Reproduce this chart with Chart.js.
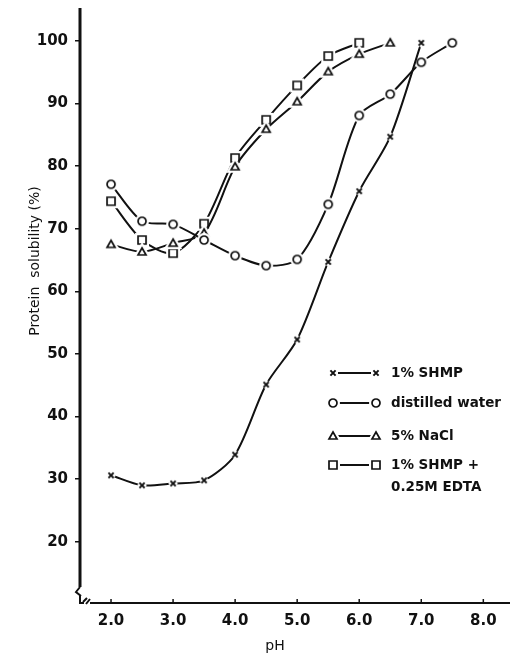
<!DOCTYPE html>
<html>
<head>
<meta charset="utf-8">
<script src="https://cdn.jsdelivr.net/npm/chart.js@4/dist/chart.umd.min.js"></script>
<style>
  html, body { margin: 0; padding: 0; background: #fff; }
  canvas { display: block; }
</style>
</head>
<body>
<canvas id="chart" width="510" height="657"></canvas>
<script>
// pH values
const phValues = [2.0, 2.5, 3.0, 3.5, 4.0, 4.5, 5.0, 5.5, 6.0, 6.5, 7.0, 7.5];

// protein solubility (%) per series
const shmpValues = [30.6, 29.0, 29.3, 29.8, 33.9, 45.1, 52.3, 64.7, 76.0, 84.7, 99.7];
const waterValues = [77.1, 71.2, 70.7, 68.2, 65.7, 64.1, 65.1, 73.9, 88.1, 91.5, 96.6, 99.7];
const naclValues = [67.5, 66.3, 67.7, 69.3, 79.9, 85.9, 90.3, 95.1, 97.9, 99.7];
const edtaValues = [74.4, 68.2, 66.1, 70.8, 81.3, 87.4, 92.9, 97.6, 99.7];

const seriesLabels = ["1% SHMP", "distilled water", "5% NaCl", ["1% SHMP +", "0.25M EDTA"]];
const xTicks = [2, 3, 4, 5, 6, 7, 8];
const yTicks = [20, 30, 40, 50, 60, 70, 80, 90, 100];

const INK = "#111";
const tickFont = { family: "DejaVu Sans", size: 15, weight: "bold" };

function toPoints(values) {
  return values.map((v, i) => ({ x: phValues[i], y: v }));
}

// marker images: white halo so the curve stops short of each symbol
function makeMarker(kind) {
  const c = document.createElement("canvas");
  c.width = c.height = 18;
  const g = c.getContext("2d");
  g.translate(9, 9);
  function path() {
    g.beginPath();
    if (kind === "circle") g.arc(0, 0, 4, 0, Math.PI * 2);
    else if (kind === "square") g.rect(-4, -4, 8, 8);
    else if (kind === "triangle") { g.moveTo(0, -4); g.lineTo(4, 3); g.lineTo(-4, 3); g.closePath(); }
    else { g.moveTo(-2.6, -2.6); g.lineTo(2.6, 2.6); g.moveTo(2.6, -2.6); g.lineTo(-2.6, 2.6); }
  }
  path();
  g.strokeStyle = "#fff";
  g.fillStyle = "#fff";
  g.lineWidth = 6;
  g.stroke();
  if (kind !== "cross") g.fill();
  path();
  g.strokeStyle = INK;
  g.lineWidth = kind === "cross" ? 2 : 1.7;
  g.stroke();
  return c;
}

const markers = {
  cross: makeMarker("cross"),
  circle: makeMarker("circle"),
  triangle: makeMarker("triangle"),
  square: makeMarker("square")
};

function lineSet(label, values, marker) {
  return {
    label: label,
    data: toPoints(values),
    borderColor: INK,
    borderWidth: 2,
    tension: 0.28,
    pointStyle: markers[marker],
    pointRadius: 5,
    pointHoverRadius: 5
  };
}

// scales should not reserve extra room for their labels
function noScalePadding(s) {
  s.paddingTop = 0;
  s.paddingBottom = 0;
  s.paddingLeft = 0;
  s.paddingRight = 0;
}

// axes, break marks, titles and legend
const decorPlugin = {
  id: "decor",
  beforeDatasetsDraw(chart) {
    const { ctx, chartArea, scales } = chart;
    const left = chartArea.left, bottom = chartArea.bottom;
    ctx.save();
    ctx.strokeStyle = INK;
    ctx.lineCap = "butt";

    // y axis with break
    ctx.lineWidth = 3;
    ctx.beginPath();
    ctx.moveTo(left, chartArea.top);
    ctx.lineTo(left, bottom - 16);
    ctx.stroke();
    ctx.lineWidth = 2;
    ctx.beginPath();
    ctx.moveTo(left, bottom - 16);
    ctx.lineTo(left - 4, bottom - 11);
    ctx.lineTo(left + 1, bottom - 7);
    ctx.moveTo(left, bottom - 8);
    ctx.lineTo(left, bottom);
    ctx.lineTo(left + 4, bottom);
    ctx.moveTo(left + 3, bottom - 1);
    ctx.lineTo(left + 7, bottom - 5);
    ctx.moveTo(left + 6, bottom + 1);
    ctx.lineTo(left + 10, bottom - 4);
    ctx.stroke();

    // x axis
    ctx.lineWidth = 2;
    ctx.beginPath();
    ctx.moveTo(left + 10, bottom);
    ctx.lineTo(chartArea.right, bottom);
    ctx.stroke();
    ctx.lineWidth = 1.5;
    xTicks.forEach(t => {
      const px = scales.x.getPixelForValue(t);
      ctx.beginPath();
      ctx.moveTo(px, bottom);
      ctx.lineTo(px, bottom - 4);
      ctx.stroke();
    });
    ctx.restore();
  },
  afterDraw(chart) {
    const { ctx } = chart;
    ctx.save();
    ctx.fillStyle = INK;

    // y title
    ctx.font = "14px 'DejaVu Sans'";
    ctx.textAlign = "center";
    ctx.textBaseline = "middle";
    ctx.translate(35, 261);
    ctx.rotate(-Math.PI / 2);
    ctx.fillText("Protein  solubility (%)", 0, 0);
    ctx.setTransform(1, 0, 0, 1, 0, 0);

    // x title
    ctx.font = "14px 'DejaVu Sans'";
    ctx.fillText("pH", 275, 646);

    // legend
    const rows = [373, 403, 436, 465];
    const kinds = ["cross", "circle", "triangle", "square"];
    ctx.font = "bold 13.5px 'DejaVu Sans'";
    ctx.textAlign = "left";
    ctx.strokeStyle = INK;
    ctx.lineWidth = 1.8;
    rows.forEach((y, i) => {
      ctx.beginPath();
      ctx.moveTo(338, y);
      ctx.lineTo(371, y);
      ctx.stroke();
      const img = markers[kinds[i]];
      ctx.drawImage(img, 333 - 9, y - 9);
      ctx.drawImage(img, 376 - 9, y - 9);
      const lbl = seriesLabels[i];
      if (Array.isArray(lbl)) {
        ctx.fillText(lbl[0], 391, y);
        ctx.fillText(lbl[1], 391, y + 22);
      } else {
        ctx.fillText(lbl, 391, y);
      }
    });
    ctx.restore();
  }
};

new Chart(document.getElementById("chart"), {
  type: "line",
  data: {
    datasets: [
      lineSet("1% SHMP", shmpValues, "cross"),
      lineSet("distilled water", waterValues, "circle"),
      lineSet("5% NaCl", naclValues, "triangle"),
      lineSet("1% SHMP + 0.25M EDTA", edtaValues, "square")
    ]
  },
  options: {
    responsive: false,
    animation: false,
    events: [],
    layout: { autoPadding: false, padding: { top: 8, right: 0, left: 0, bottom: 0 } },
    plugins: {
      legend: { display: false },
      tooltip: { enabled: false }
    },
    scales: {
      x: {
        type: "linear",
        min: 1.5,
        max: 8.43,
        afterBuildTicks: s => { s.ticks = xTicks.map(v => ({ value: v })); },
        afterFit: s => { s.height = 54; noScalePadding(s); },
        grid: { display: false, drawTicks: false },
        border: { display: false },
        ticks: {
          color: INK,
          font: tickFont,
          padding: 9,
          maxRotation: 0,
          callback: v => v.toFixed(1)
        }
      },
      y: {
        type: "linear",
        min: 10.2,
        max: 105.27,
        afterBuildTicks: s => { s.ticks = yTicks.map(v => ({ value: v })); },
        afterFit: s => { s.width = 80; noScalePadding(s); },
        grid: { display: true, drawOnChartArea: false, drawTicks: true, tickLength: 5, color: INK, lineWidth: 1.5 },
        border: { display: false },
        ticks: { color: INK, font: tickFont, padding: 7 }
      }
    }
  },
  plugins: [decorPlugin]
});
</script>
</body>
</html>
